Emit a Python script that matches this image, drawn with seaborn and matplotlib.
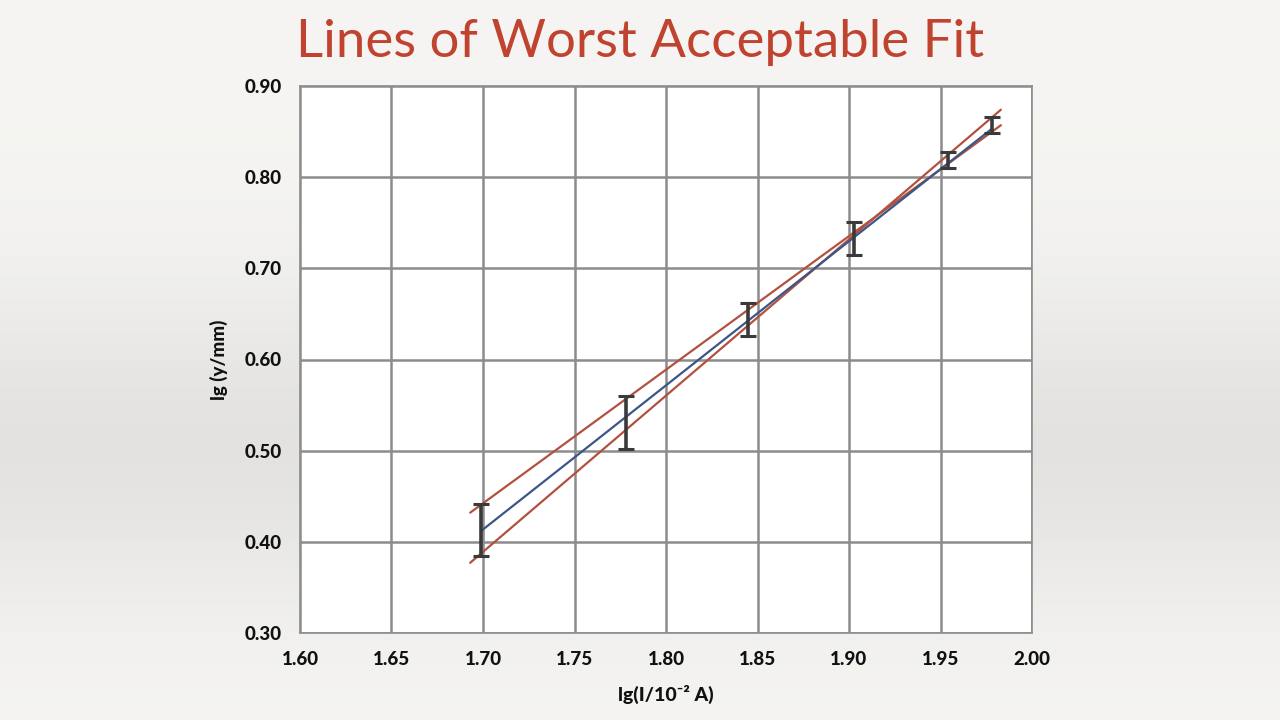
import numpy as np
import pandas as pd
import matplotlib
matplotlib.use("Agg")
import matplotlib.pyplot as plt
import seaborn as sns

# ---- data ----
x_vals = [1.699, 1.778, 1.845, 1.903, 1.954, 1.978]
y_vals = [0.413, 0.531, 0.644, 0.733, 0.819, 0.857]
y_err = [0.028, 0.029, 0.018, 0.018, 0.009, 0.009]

best_x = [1.699, 1.978]
best_y = [0.412, 0.853]
shallow_x = [1.693, 1.983]
shallow_y = [0.432, 0.857]
steep_x = [1.693, 1.983]
steep_y = [0.377, 0.874]

x_ticks = [1.60, 1.65, 1.70, 1.75, 1.80, 1.85, 1.90, 1.95, 2.00]
y_ticks = [0.30, 0.40, 0.50, 0.60, 0.70, 0.80, 0.90]

title = "Lines of Worst Acceptable Fit"
x_label = "lg(I/10\u207b\u00b2 A)"
y_label = "lg (y/mm)"

sns.set_theme(style="white")
plt.rcParams["font.family"] = ["Lato", "DejaVu Sans"]

fig = plt.figure(figsize=(12.8, 7.2), dpi=100)

# background gradient
bg = fig.add_axes([0, 0, 1, 1], zorder=-10)
t = np.linspace(0, 1, 256)
shade = 0.962 - 0.07 * np.exp(-((t - 0.62) / 0.22) ** 2)
img = np.stack([shade, shade - 0.003, shade - 0.012], axis=-1)[:, None, :]
bg.imshow(np.clip(img, 0, 1), aspect="auto", extent=[0, 1, 0, 1])
bg.axis("off")

ax = fig.add_axes([300 / 1280, 1 - 633 / 720, 732 / 1280, 547 / 720])
ax.set_facecolor("white")

df_best = pd.DataFrame({"x": best_x, "y": best_y})
df_sh = pd.DataFrame({"x": shallow_x, "y": shallow_y})
df_st = pd.DataFrame({"x": steep_x, "y": steep_y})

red = "#b2513f"
sns.lineplot(data=df_sh, x="x", y="y", ax=ax, color=red, lw=1.6, zorder=3)
sns.lineplot(data=df_st, x="x", y="y", ax=ax, color=red, lw=1.6, zorder=3)
sns.lineplot(data=df_best, x="x", y="y", ax=ax, color="#3d5688", lw=1.6, zorder=4)

ax.errorbar(x_vals, y_vals, yerr=y_err, fmt="none", ecolor="#3a3a3a",
            elinewidth=2.6, capsize=6, capthick=2.2, zorder=5)

ax.set_xlim(1.60, 2.00)
ax.set_ylim(0.30, 0.90)
ax.set_xticks(x_ticks)
ax.set_yticks(y_ticks)
ax.set_xticklabels([f"{v:.2f}" for v in x_ticks])
ax.set_yticklabels([f"{v:.2f}" for v in y_ticks])
ax.grid(True, color="#8c8c8c", lw=1.8)
ax.set_axisbelow(True)
for s in ax.spines.values():
    s.set_color("#8c8c8c")
    s.set_linewidth(1.2)
ax.tick_params(axis="both", length=0, labelsize=13.5, colors="#111111", pad=13)
for lab in ax.get_xticklabels() + ax.get_yticklabels():
    lab.set_fontweight(900)

ax.set_xlabel(x_label, fontsize=14, fontweight=900, color="#111111", labelpad=12)
ax.set_ylabel(y_label, fontsize=13.5, fontweight=900, color="#111111", labelpad=12)

fig.text(0.5, 1 - 57 / 720, title, ha="center", va="baseline",
         fontsize=38, color="#c0432f", fontweight="normal")

fig.savefig("out.png", dpi=100)
